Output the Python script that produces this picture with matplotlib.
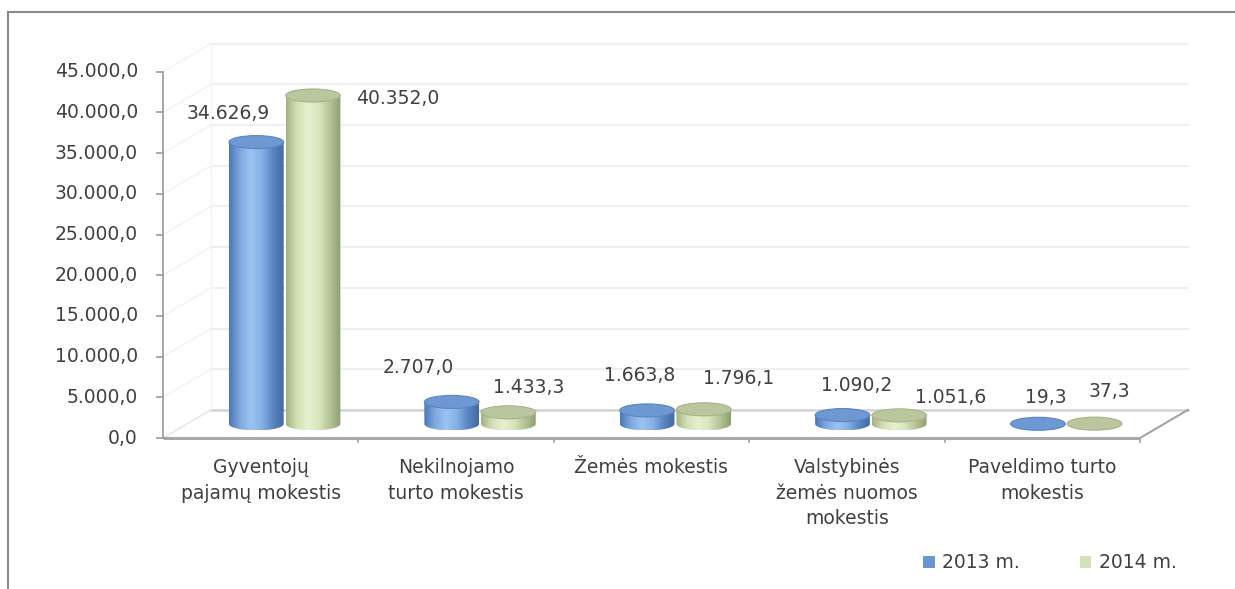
import numpy as np
import matplotlib
matplotlib.use("Agg")
import matplotlib.pyplot as plt
from matplotlib.path import Path
from matplotlib.patches import Ellipse, Patch, Polygon
from matplotlib.colors import LinearSegmentedColormap
from matplotlib.lines import Line2D

# data
categories = ["Gyventojų\npajamų mokestis", "Nekilnojamo\nturto mokestis", "Žemės mokestis",
              "Valstybinės\nžemės nuomos\nmokestis", "Paveldimo turto\nmokestis"]
series_names = ["2013 m.", "2014 m."]
values_2013 = [34626.9, 2707.0, 1663.8, 1090.2, 19.3]
values_2014 = [40352.0, 1433.3, 1796.1, 1051.6, 37.3]
y_ticks = [0, 5000, 10000, 15000, 20000, 25000, 30000, 35000, 40000, 45000]

# layout (label nudges in pixels, one per bar)
label_nudge_2013 = [(-28, 29), (-33, 34), (-7, 35), (14, 30), (8, 26)]
label_nudge_2014 = [(85, -3), (20, 25), (35, 31), (51, 18), (15, 32)]

DEPTH_X = 0.245      # category units
DEPTH_Y = 3450       # value units
BAR_W = 0.28
ELL_H = 1600
TXT = "#404040"
FS = 13.5

def fmt(v):
    s = f"{v:,.1f}"
    return s.replace(",", "X").replace(".", ",").replace("X", ".")

fig = plt.figure(figsize=(12.35, 5.89), dpi=100)
ax = fig.add_axes([0, 0, 1, 1])
ax.set_axis_off()

n = len(categories)
ymax = y_ticks[-1]

# back wall gridlines + side wall diagonals (very faint)
for v in y_ticks:
    ax.plot([DEPTH_X, n + DEPTH_X], [v + DEPTH_Y, v + DEPTH_Y], color="#eeeeee", lw=1.3, zorder=1)
    ax.plot([0, DEPTH_X], [v, v + DEPTH_Y], color="#f2f2f2", lw=1.0, zorder=1)
ax.plot([DEPTH_X, DEPTH_X], [DEPTH_Y, ymax + DEPTH_Y], color="#f4f4f4", lw=1.0, zorder=1)

# floor
floor = Polygon([[0, 0], [n, 0], [n + DEPTH_X, DEPTH_Y], [DEPTH_X, DEPTH_Y]], closed=True,
                facecolor="white", edgecolor="none", zorder=1)
ax.add_patch(floor)
ax.plot([DEPTH_X, n + DEPTH_X], [DEPTH_Y, DEPTH_Y], color="#d4d4d4", lw=1.8, zorder=2)
ax.plot([0, DEPTH_X], [0, DEPTH_Y], color="#e8e8e8", lw=1.2, zorder=2)
ax.plot([n, n + DEPTH_X], [0, DEPTH_Y], color="#a4a4a4", lw=1.5, zorder=2)

# axes lines
ax.plot([0, n], [0, 0], color="#a8a8a8", lw=2.2, zorder=6, solid_capstyle="butt")
ax.plot([0, 0], [0, ymax], color="#a0a0a0", lw=1.3, zorder=6)
for v in y_ticks:
    ax.plot([-0.032, 0], [v, v], color="#a0a0a0", lw=1.3, zorder=6)
    ax.text(-0.128, v, fmt(v), ha="right", va="center", fontsize=FS, color=TXT)
for i in range(1, n + 1):
    ax.plot([i, i], [0, -500], color="#a8a8a8", lw=1.3, zorder=6)

for i, lab in enumerate(categories):
    ax.text(i + 0.5, -2450, lab, ha="center", va="top", fontsize=FS, color=TXT,
            linespacing=1.45)

cmap_blue = LinearSegmentedColormap.from_list(
    "b", ["#4a76b4", "#7fa8e0", "#9cc3f2", "#86b0e6", "#5a86c2", "#3f6aa6"])
cmap_green = LinearSegmentedColormap.from_list(
    "g", ["#a2b286", "#d2e0b4", "#e6f0d0", "#d8e6bc", "#b4c496", "#8e9e72"])
grad = np.linspace(0, 1, 256).reshape(1, -1)


def cylinder(xc, base, h, cmap, top_face, top_edge):
    top = base + h
    x0, x1 = xc - BAR_W / 2, xc + BAR_W / 2
    t = np.linspace(np.pi, 2 * np.pi, 60)
    ex = xc + BAR_W / 2 * np.cos(t)
    ey = base + ELL_H / 2 * np.sin(t)
    verts = [(x0, top)] + list(zip(ex, ey)) + [(x1, top), (x0, top)]
    codes = [Path.MOVETO] + [Path.LINETO] * (len(verts) - 2) + [Path.CLOSEPOLY]
    path = Path(verts, codes)
    im = ax.imshow(grad, cmap=cmap, aspect="auto", interpolation="bicubic",
                   extent=(x0, x1, base - ELL_H / 2, top), zorder=4)
    im.set_clip_path(path, transform=ax.transData)
    ax.add_patch(Ellipse((xc, top), BAR_W, ELL_H, facecolor=top_face,
                         edgecolor=top_edge, lw=0.8, zorder=4))


base = DEPTH_Y / 2
centers = np.arange(n) + 0.5 + DEPTH_X / 2
for i in range(n):
    cylinder(centers[i] - 0.145, base, values_2013[i], cmap_blue, "#6e98d2", "#5a84c0")
    cylinder(centers[i] + 0.145, base, values_2014[i], cmap_green, "#bac69e", "#a6b288")
    ax.annotate(fmt(values_2013[i]), (centers[i] - 0.145, base + values_2013[i]),
                xytext=label_nudge_2013[i], textcoords="offset pixels",
                ha="center", va="center", fontsize=FS, color=TXT, zorder=7)
    ax.annotate(fmt(values_2014[i]), (centers[i] + 0.145, base + values_2014[i]),
                xytext=label_nudge_2014[i], textcoords="offset pixels",
                ha="center", va="center", fontsize=FS, color=TXT, zorder=7)

# pixel mapping: x=0 at 163px, 195.4 px per category; y=0 at 438px, 40.7 px per 5000
ax.set_xlim(-163 / 195.4, (1235 - 163) / 195.4)
ax.set_ylim(-(589 - 438) * 5000 / 40.7, 438 * 5000 / 40.7)

handles = [Patch(facecolor="#6a96d4", edgecolor="none"),
           Patch(facecolor="#d4e2b8", edgecolor="none")]
ax.legend(handles, series_names, loc="center", ncol=2, frameon=False, fontsize=FS,
          bbox_to_anchor=(1050 / 1235, 1 - 563 / 589), bbox_transform=fig.transFigure,
          handlelength=0.6, handleheight=0.6, handletextpad=0.4, columnspacing=3.2,
          labelcolor=TXT)

# outer frame
fig.add_artist(Line2D([8 / 1235, 8 / 1235], [0, 1 - 12 / 589], transform=fig.transFigure,
                      color="#8a8a8a", lw=1.5))
fig.add_artist(Line2D([8 / 1235, 1], [1 - 12 / 589, 1 - 12 / 589], transform=fig.transFigure,
                      color="#8a8a8a", lw=1.5))

fig.savefig("out.png", dpi=100, facecolor="white")
